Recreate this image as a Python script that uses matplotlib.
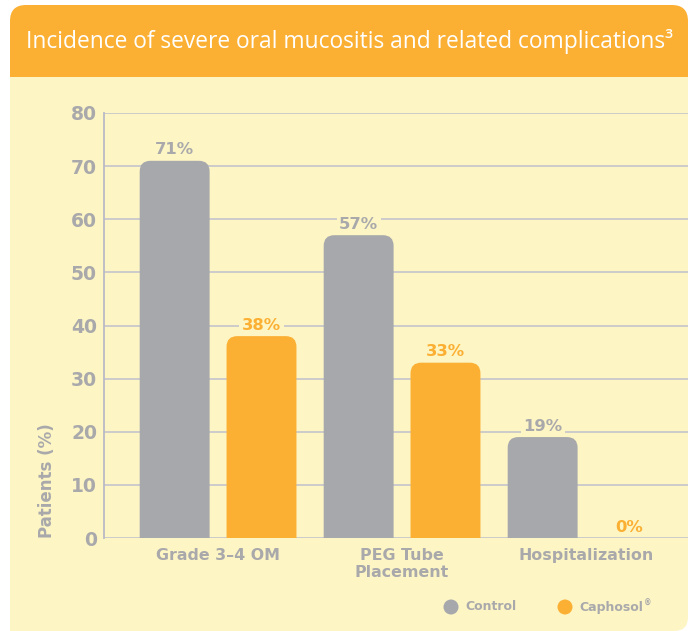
import matplotlib

matplotlib.use("Agg")

import matplotlib.pyplot as plt
import numpy as np
from matplotlib.patches import Ellipse, FancyBboxPatch

categories = ["Grade 3\u20134 OM", "PEG Tube\nPlacement", "Hospitalization"]
control = [71, 57, 19]
caphosol = [38, 33, 0]
series_names = ["Control", "Caphosol"]
yticks = [0, 10, 20, 30, 40, 50, 60, 70, 80]

ORANGE = "#FBB034"
GRAY = "#A7A8AC"
TEXT_GRAY = "#A9A9AB"
PANEL = "#FDF5C4"
GRID = "#C8C8CC"
SPINE = "#B9BAC6"

FONT = "DejaVu Sans"

fig = plt.figure(figsize=(6.94, 6.31), dpi=100)
W, H = 694, 631


def px_box(x0, y0, x1, y1, color, r):
    # rectangle given in pixel coords from top-left
    return FancyBboxPatch(
        (x0 / W, 1 - y1 / H), (x1 - x0) / W, (y1 - y0) / H,
        boxstyle=f"round,pad=0,rounding_size={r / W}",
        mutation_aspect=W / H, transform=fig.transFigure,
        facecolor=color, edgecolor="none", zorder=0,
    )


# header band and chart panel
fig.patches.append(px_box(10, 5, 688, 95, ORANGE, 16))
fig.patches.append(px_box(10, 95, 688, 76, ORANGE, 0))
fig.patches.append(px_box(10, 77, 688, 631, PANEL, 14))
fig.patches.append(px_box(10, 77, 688, 600, PANEL, 0))
fig.patches.append(px_box(10, 560, 400, 640, PANEL, 0))
fig.text(26 / W, 1 - 42 / H,
         "Incidence of severe oral mucositis and related complications\u00b3",
         color="white", fontsize=16.4, family="Open Sans", va="center", ha="left")

ax = fig.add_axes([104 / W, 1 - 538 / H, (688 - 104) / W, (538 - 113) / H])
ax.set_zorder(2)
ax.set_facecolor("none")
ax.set_xlim(-0.62, 2.554)
ax.set_ylim(0, 80)

x = np.arange(len(categories))
offset = 0.236
width = 0.38
radius = 0.058
aspect = 184 / 5.31

for values, shift, color, label_color in [
    (control, -offset, GRAY, TEXT_GRAY),
    (caphosol, offset, ORANGE, ORANGE),
]:
    for xi, v in zip(x, values):
        if v > 0:
            ax.add_patch(FancyBboxPatch(
                (xi + shift - width / 2, -4), width, v + 4,
                boxstyle=f"round,pad=0,rounding_size={radius}",
                mutation_aspect=aspect, facecolor=color, edgecolor="none",
                zorder=3, clip_on=True,
            ))
        ax.annotate(f"{v}%", (xi + shift, v), xytext=(0, 2.5), textcoords="offset points",
                    ha="center", va="bottom", fontsize=11.8, fontweight="bold",
                    family=FONT, color=label_color, zorder=4,
                    bbox=dict(boxstyle="square,pad=0.15", facecolor=PANEL, edgecolor="none"))

ax.set_yticks(yticks)
ax.yaxis.grid(True, color=GRID, linewidth=1.3)
ax.set_axisbelow(True)
ax.tick_params(axis="y", length=0, pad=5, labelsize=13.5, labelcolor=TEXT_GRAY)
ax.tick_params(axis="x", length=0, pad=7, labelsize=11.4, labelcolor=TEXT_GRAY)
ax.set_xticks(x)
ax.set_xticklabels(categories, linespacing=1.15)
for lab in ax.get_yticklabels() + ax.get_xticklabels():
    lab.set_fontweight("bold")
    lab.set_family(FONT)
for side in ["top", "right", "bottom"]:
    ax.spines[side].set_visible(False)
ax.spines["left"].set_color(SPINE)
ax.spines["left"].set_linewidth(1.3)

fig.text(47 / W, 1 - 538 / H, "Patients (%)", rotation=90, ha="center", va="bottom",
         fontsize=12, fontweight="bold", family=FONT, color=TEXT_GRAY, zorder=3)

# legend
for cx, color, name in [(451, GRAY, series_names[0]), (565, ORANGE, series_names[1])]:
    fig.patches.append(Ellipse(
        (cx / W, 1 - 607 / H), 15 / W, 15 / H, transform=fig.transFigure,
        facecolor=color, edgecolor="none", zorder=3))
    t = fig.text((cx + 14) / W, 1 - 607 / H, name, ha="left", va="center",
                 fontsize=9, fontweight="bold", family=FONT, color=TEXT_GRAY, zorder=3)
    if name == "Caphosol":
        fig.canvas.draw()
        bb = t.get_window_extent()
        fig.text(bb.x1 / W + 1 / W, 1 - 603 / H, "\u00ae", ha="left", va="center",
                 fontsize=5.5, fontweight="bold", family=FONT, color=TEXT_GRAY, zorder=3)

fig.savefig("out.png", dpi=100, facecolor="white")
